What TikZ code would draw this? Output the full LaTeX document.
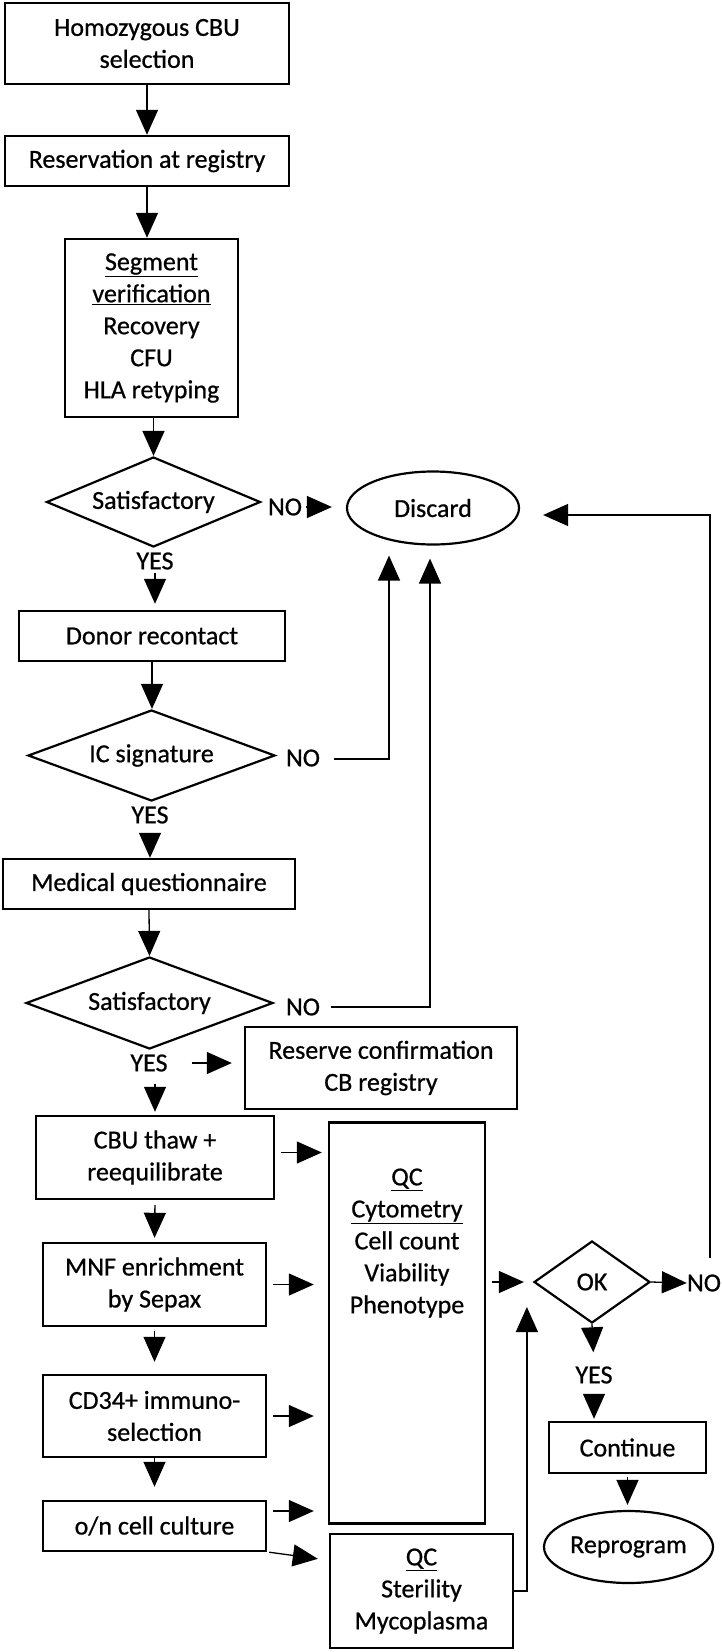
\documentclass[tikz,border=0pt]{standalone}
\usepackage{fontspec}
\setmainfont{Carlito}[FakeBold=0.7]
\usetikzlibrary{arrows.meta,shapes.geometric,calc}
\tikzset{font=\fontsize{26}{32}\selectfont}
\tikzset{box/.style={draw, rectangle, line width=2.4pt, align=center, inner sep=0pt},
  dec/.style={draw, diamond, line width=2.2pt, inner sep=0pt},
  term/.style={draw, ellipse, line width=2.2pt, inner sep=0pt},
  lbl/.style={inner sep=0pt},
  go/.style={line width=1.3pt, -{Triangle[width=22pt,length=25pt]}}}

\begin{document}
\begin{tikzpicture}[x=1pt,y=-1pt]
  \useasboundingbox (0,0) rectangle (722,1652);

  % left column
  \node[box, minimum width=284pt, minimum height=81pt] (sel) at (147,43.5) {Homozygous CBU\\selection};
  \node[box, minimum width=284pt, minimum height=50pt] (res) at (147,161) {Reservation at registry};
  \node[box, minimum width=173pt, minimum height=178pt] (seg) at (151.5,328)
    {\underline{Segment}\\\underline{verification}\\Recovery\\CFU\\HLA retyping};
  \node[dec, aspect=2.39, minimum width=214pt, minimum height=90pt] (sat1) at (153.5,502) {Satisfactory};
  \node[box, minimum width=266pt, minimum height=50pt] (donor) at (152,636) {Donor recontact};
  \node[dec, aspect=2.71, minimum width=247pt, minimum height=91pt] (ic) at (151.5,755.5) {IC signature};
  \node[box, minimum width=292pt, minimum height=50pt] (med) at (149,884) {Medical questionnaire};
  \node[dec, aspect=2.68, minimum width=247pt, minimum height=92pt] (sat2) at (149.5,1003) {Satisfactory};
  \node[box, minimum width=238pt, minimum height=83pt] (thaw) at (155,1157.5) {CBU thaw +\\reequilibrate};
  \node[box, minimum width=223pt, minimum height=83pt] (mnf) at (154.5,1284.5) {MNF enrichment\\by Sepax};
  \node[box, minimum width=223pt, minimum height=82pt] (cd34) at (154.5,1416) {CD34+ immuno-\\selection};
  \node[box, minimum width=223pt, minimum height=50pt] (cult) at (154.5,1526) {o/n cell culture};

  % middle and right
  \node[term, minimum width=172pt, minimum height=73pt] (disc) at (433,508) {Discard};
  \node[box, minimum width=272pt, minimum height=82pt] (resv) at (381,1068) {Reserve confirmation\\CB registry};
  \node[box, minimum width=156pt, minimum height=401pt] (cyto) at (407,1323) {};
  \node[align=center, inner sep=0pt] (cytotxt) at (407,1243)
    {\underline{QC}\\\underline{Cytometry}\\Cell count\\Viability\\Phenotype};
  \node[box, minimum width=183pt, minimum height=114pt] (ster) at (421.5,1591) {\underline{QC}\\Sterility\\Mycoplasma};
  \node[dec, aspect=1.43, minimum width=116pt, minimum height=82pt] (ok) at (592,1282) {OK};
  \node[box, minimum width=157pt, minimum height=51pt] (cont) at (627.5,1447.5) {Continue};
  \node[term, minimum width=169pt, minimum height=72pt] (repro) at (628.5,1547) {Reprogram};

  % NO / YES
  \node[lbl] (no1) at (285,507) {NO};
  \node[lbl] (yes1) at (155,561) {YES};
  \node[lbl] (no2) at (303,758) {NO};
  \node[lbl] (yes2) at (150,815) {YES};
  \node[lbl] (no3) at (303,1007) {NO};
  \node[lbl] (yes3) at (149,1063) {YES};
  \node[lbl] (no4) at (704,1283) {NO};
  \node[lbl] (yes4) at (594,1375) {YES};
  \coordinate (noup) at (710,1258);
  \coordinate (thawout) at ($(thaw.east)+(0,-5)$);
  \coordinate (cultout) at ($(cult.east)+(0,-15)$);

  \draw[go] (sel.south) -- (sel.south |- res.north);
  \draw[go] (res.south) -- (res.south |- seg.north);
  \draw[go] (sat1.north |- seg.south) -- (sat1.north);
  \draw[go, shorten <=4pt, shorten >=14pt] (no1.east) -- (no1.east -| disc.west);
  \draw[go, shorten <=3pt, shorten >=6pt] (yes1.south) -- (yes1.south |- donor.north);
  \draw[go] (donor.south) -- (donor.south |- ic.north);
  \draw[go] ($(no2.east)+(14,1)$) -| ($(disc.south)+(-44,10)$);
  \draw[go, shorten <=10pt] (yes2.south) -- (yes2.south |- med.north);
  \draw[go] (med.south) -- (sat2.north);
  \draw[go] ($(no3.east)+(11,0)$) -| ($(disc.south)+(-3,13)$);
  \draw[go, shorten <=24pt, shorten >=12pt] (yes3.east) -- (yes3.east -| resv.west);
  \draw[go, shorten <=12pt, shorten >=3pt] (yes3.south -| thaw.north) -- (thaw.north);
  \draw[go, shorten <=5pt, shorten >=4pt] (thaw.south) -- (mnf.north);
  \draw[go, shorten <=4pt, shorten >=12pt] (mnf.south) -- (cd34.north);
  \draw[go, shorten >=13pt] (cd34.south) -- (cult.north);

  \draw[go, shorten <=6pt, shorten >=6pt] (thawout) -- (thawout -| cyto.west);
  \draw[go, shorten <=6pt, shorten >=14pt] (mnf.east) -- (mnf.east -| cyto.west);
  \draw[go, shorten <=6pt, shorten >=14pt] (cd34.east) -- (cd34.east -| cyto.west);
  \draw[go, shorten <=6pt, shorten >=14pt] (cultout) -- (cultout -| cyto.west);
  \draw[go] ($(cult.south east)+(2,0)$) -- ($(ster.north west)+(-11,26)$);

  \draw[go, shorten <=6pt, shorten >=9pt] (cyto.east |- ok.west) -- (ok.west);
  \draw[go] (ster.east) -| ($(ok.west)+(-6,25)$);
  \draw[go] (ok.east) -- (no4.west);
  \draw[go, shorten >=23pt] (noup) |- ($(disc.east)+(0,7)$);
  \draw[go, shorten >=14pt] (ok.south) -- (yes4.north);
  \draw[go, shorten <=10pt, shorten >=2pt] (yes4.south) -- (yes4.south |- cont.north);
  \draw[go, shorten <=3pt, shorten >=5pt] (cont.south) -- (cont.south |- repro.north);
\end{tikzpicture}
\end{document}
